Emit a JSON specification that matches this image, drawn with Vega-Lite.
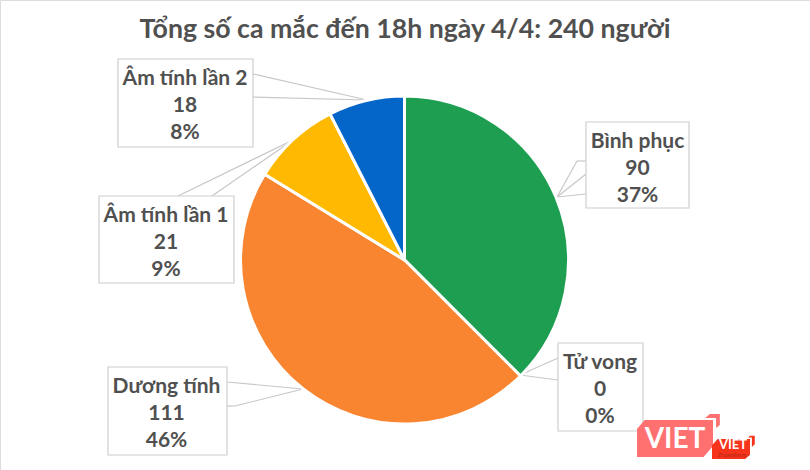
{
  "$schema": "https://vega.github.io/schema/vega-lite/v6.json",
  "width": 810,
  "height": 470,
  "autosize": "none",
  "padding": 0,
  "background": "white",
  "title": {
    "text": "Tổng số ca mắc đến 18h ngày 4/4: 240 người",
    "font": "Lato",
    "fontSize": 26.7,
    "fontWeight": "bold",
    "color": "#505050",
    "anchor": "middle",
    "offset": -44
  },
  "datasets": {
    "slices": [
      {"name": "Bình phục", "value": 90, "rank": 1},
      {"name": "Tử vong", "value": 0, "rank": 2},
      {"name": "Dương tính", "value": 111, "rank": 3},
      {"name": "Âm tính lần 1", "value": 21, "rank": 4},
      {"name": "Âm tính lần 2", "value": 18, "rank": 5}
    ],
    "callouts": [
      {"name": "Bình phục", "value": "90", "pct": "37%", "left": 586, "right": 689, "top": 122, "bottom": 208, "cx": 637.5, "cy": 169},
      {"name": "Tử vong", "value": "0", "pct": "0%", "left": 558, "right": 643, "top": 343, "bottom": 431, "cx": 600, "cy": 390},
      {"name": "Dương tính", "value": "111", "pct": "46%", "left": 108, "right": 227, "top": 367, "bottom": 455, "cx": 166.5, "cy": 414},
      {"name": "Âm tính lần 1", "value": "21", "pct": "9%", "left": 99, "right": 234, "top": 196, "bottom": 283, "cx": 166, "cy": 243},
      {"name": "Âm tính lần 2", "value": "18", "pct": "8%", "left": 118, "right": 253, "top": 59, "bottom": 147, "cx": 185, "cy": 106}
    ],
    "leaders": [
      {"x1": 557, "y1": 197, "x2": 577, "y2": 161},
      {"x1": 577, "y1": 161, "x2": 586, "y2": 161},
      {"x1": 557, "y1": 197, "x2": 586, "y2": 174},
      {"x1": 557, "y1": 197, "x2": 586, "y2": 194},
      {"x1": 520, "y1": 375, "x2": 558, "y2": 358},
      {"x1": 520, "y1": 375, "x2": 558, "y2": 380},
      {"x1": 303, "y1": 389, "x2": 227, "y2": 382},
      {"x1": 303, "y1": 389, "x2": 235, "y2": 406},
      {"x1": 235, "y1": 406, "x2": 227, "y2": 406},
      {"x1": 293, "y1": 140, "x2": 178, "y2": 196},
      {"x1": 293, "y1": 140, "x2": 212, "y2": 196},
      {"x1": 367, "y1": 100, "x2": 253, "y2": 74},
      {"x1": 367, "y1": 100, "x2": 253, "y2": 97}
    ]
  },
  "layer": [
    {
      "data": {"name": "leaders"},
      "mark": {"type": "rule", "color": "#c9c6ca", "strokeWidth": 1.2},
      "encoding": {
        "x": {"field": "x1", "type": "quantitative", "scale": {"domain": [0, 810]}, "axis": null},
        "x2": {"field": "x2"},
        "y": {"field": "y1", "type": "quantitative", "scale": {"domain": [470, 0]}, "axis": null},
        "y2": {"field": "y2"}
      }
    },
    {
      "data": {"name": "slices"},
      "mark": {"type": "arc", "x": 404.5, "y": 260, "outerRadius": 164, "stroke": "white", "strokeWidth": 3},
      "encoding": {
        "theta": {"field": "value", "type": "quantitative", "stack": true},
        "order": {"field": "rank", "type": "quantitative"},
        "color": {
          "field": "name",
          "type": "nominal",
          "legend": null,
          "scale": {
            "domain": ["Bình phục", "Tử vong", "Dương tính", "Âm tính lần 1", "Âm tính lần 2"],
            "range": ["#1e9e50", "#c00000", "#f98530", "#ffb900", "#0466c8"]
          }
        }
      }
    },
    {
      "data": {"name": "callouts"},
      "mark": {"type": "rect", "fill": "white", "stroke": "#cfcdd0", "strokeWidth": 1.2},
      "encoding": {
        "x": {"field": "left", "type": "quantitative", "scale": {"domain": [0, 810]}, "axis": null},
        "x2": {"field": "right"},
        "y": {"field": "top", "type": "quantitative", "scale": {"domain": [470, 0]}, "axis": null},
        "y2": {"field": "bottom"}
      }
    },
    {
      "data": {"name": "callouts"},
      "mark": {"type": "text", "font": "Lato", "fontSize": 21, "fontWeight": "bold", "color": "#505050", "dy": -27},
      "encoding": {
        "x": {"field": "cx", "type": "quantitative", "scale": {"domain": [0, 810]}, "axis": null},
        "y": {"field": "cy", "type": "quantitative", "scale": {"domain": [470, 0]}, "axis": null},
        "text": {"field": "name"}
      }
    },
    {
      "data": {"name": "callouts"},
      "mark": {"type": "text", "font": "Lato", "fontSize": 21, "fontWeight": "bold", "color": "#505050"},
      "encoding": {
        "x": {"field": "cx", "type": "quantitative", "scale": {"domain": [0, 810]}, "axis": null},
        "y": {"field": "cy", "type": "quantitative", "scale": {"domain": [470, 0]}, "axis": null},
        "text": {"field": "value"}
      }
    },
    {
      "data": {"name": "callouts"},
      "mark": {"type": "text", "font": "Lato", "fontSize": 21, "fontWeight": "bold", "color": "#505050", "dy": 27},
      "encoding": {
        "x": {"field": "cx", "type": "quantitative", "scale": {"domain": [0, 810]}, "axis": null},
        "y": {"field": "cy", "type": "quantitative", "scale": {"domain": [470, 0]}, "axis": null},
        "text": {"field": "pct"}
      }
    },
    {
      "data": {"values": [{"px": 675, "py": 438.5}]},
      "mark": {
        "type": "point",
        "filled": true,
        "opacity": 1,
        "size": 5776,
        "color": "#ff7070",
        "shape": "M-1,0.487 L-1,-0.25 L-0.8,-0.487 L1,-0.487 L1,0.2 L0.75,0.487 Z M0.79,-0.54 L0.92,-0.645 L1.18,-0.645 L1.18,-0.355 L1.08,-0.276 L1.08,-0.54 Z"
      },
      "encoding": {
        "x": {"field": "px", "type": "quantitative", "scale": {"domain": [0, 810]}, "axis": null},
        "y": {"field": "py", "type": "quantitative", "scale": {"domain": [470, 0]}, "axis": null}
      }
    },
    {
      "data": {"values": [{"px": 731, "py": 449}]},
      "mark": {
        "type": "point",
        "filled": true,
        "opacity": 1,
        "size": 1444,
        "color": "#f5341b",
        "shape": "M-1,0.53 L-1,-0.2 L-0.7,-0.53 L1,-0.53 L1,0.3 L0.75,0.53 Z M0.9,-0.6 L1,-0.7 L1.25,-0.7 L1.25,-0.25 L1.1,-0.1 L1.1,-0.6 Z"
      },
      "encoding": {
        "x": {"field": "px", "type": "quantitative", "scale": {"domain": [0, 810]}, "axis": null},
        "y": {"field": "py", "type": "quantitative", "scale": {"domain": [470, 0]}, "axis": null}
      }
    },
    {
      "data": {"values": [{"px": 675, "py": 440, "brand": "VIET"}]},
      "mark": {"type": "text", "font": "Lato", "fontSize": 28, "fontWeight": "bold", "color": "white"},
      "encoding": {
        "x": {"field": "px", "type": "quantitative", "scale": {"domain": [0, 810]}, "axis": null},
        "y": {"field": "py", "type": "quantitative", "scale": {"domain": [470, 0]}, "axis": null},
        "text": {"field": "brand"}
      }
    },
    {
      "data": {"values": [{"px": 733, "py": 445, "brand": "VIET"}]},
      "mark": {"type": "text", "font": "Lato", "fontSize": 13, "fontWeight": "bold", "color": "white"},
      "encoding": {
        "x": {"field": "px", "type": "quantitative", "scale": {"domain": [0, 810]}, "axis": null},
        "y": {"field": "py", "type": "quantitative", "scale": {"domain": [470, 0]}, "axis": null},
        "text": {"field": "brand"}
      }
    },
    {
      "data": {"values": [{"px": 732, "py": 455, "brand": "Transform"}]},
      "mark": {"type": "text", "font": "Liberation Serif", "fontSize": 7, "fontStyle": "italic", "color": "#a8261a"},
      "encoding": {
        "x": {"field": "px", "type": "quantitative", "scale": {"domain": [0, 810]}, "axis": null},
        "y": {"field": "py", "type": "quantitative", "scale": {"domain": [470, 0]}, "axis": null},
        "text": {"field": "brand"}
      }
    }
  ]
}
